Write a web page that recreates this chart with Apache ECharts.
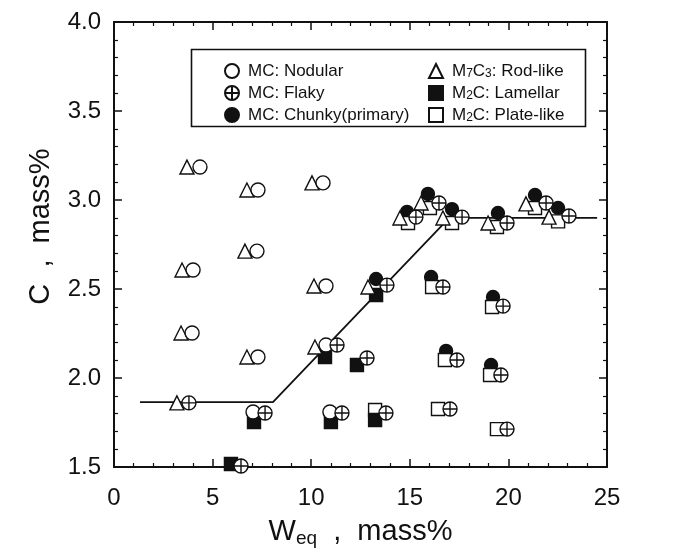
<!DOCTYPE html>
<html>
<head>
<meta charset="utf-8">
<script src="https://cdn.jsdelivr.net/npm/echarts@6/dist/echarts.min.js"></script>
<style>
  html, body { margin: 0; padding: 0; background: #fff; }
  #chart { width: 676px; height: 554px; }
</style>
</head>
<body>
<div id="chart"></div>
<script>
// ---- data ----
const xTicks = [0, 5, 10, 15, 20, 25];
const yTicks = ['1.5', '2.0', '2.5', '3.0', '3.5', '4.0'];

const nodular = [[4.36,3.185],[7.30,3.056],[10.60,3.096],[7.25,2.713],[4.01,2.607],[10.75,2.517],
                 [3.96,2.253],[7.30,2.118],[10.75,2.185],[7.05,1.809],[10.95,1.809]];
const flaky = [[3.80,1.860],[7.66,1.803],[11.31,2.185],[11.56,1.803],[12.83,2.112],[13.84,2.522],
               [13.79,1.803],[16.68,2.511],[17.04,1.826],[17.39,2.101],[19.73,2.404],[19.62,2.017],
               [19.93,1.713],[15.31,2.904],[16.48,2.983],[17.65,2.904],[19.93,2.871],[21.91,2.983],
               [23.07,2.910],[6.44,1.506]];
const chunky = [[13.29,2.556],[16.08,2.567],[16.84,2.152],[19.22,2.455],[19.12,2.073],[14.86,2.933],
                [15.92,3.034],[17.14,2.949],[19.47,2.927],[21.35,3.028],[22.52,2.955]];
const rodLike = [[3.70,3.185],[6.74,3.056],[10.04,3.096],[6.64,2.713],[3.45,2.607],[10.14,2.517],
                 [3.40,2.253],[6.74,2.118],[3.19,1.860],[10.19,2.174],[12.88,2.511],[14.50,2.899],
                 [15.57,2.983],[16.68,2.899],[18.97,2.871],[20.89,2.978],[22.06,2.904]];
const lamellar = [[7.10,1.753],[10.70,2.118],[12.32,2.073],[13.29,2.466],[11.00,1.753],[13.24,1.764],[5.93,1.517]];
const plateLike = [[16.13,2.511],[16.78,2.101],[19.17,2.399],[19.07,2.017],[13.24,1.820],[16.43,1.826],
                   [19.42,1.713],[14.91,2.871],[16.02,2.955],[17.14,2.871],[19.42,2.848],[21.35,2.955],[22.52,2.88]];
const boundary = [[1.32,1.865],[8.06,1.865],[17.0,2.9],[24.5,2.9]];

const names = {
  nodular: 'MC: Nodular', flaky: 'MC: Flaky', chunky: 'MC: Chunky(primary)',
  rod: 'M7C3: Rod-like', lamellar: 'M2C: Lamellar', plate: 'M2C: Plate-like'
};

// ---- chart ----
const INK = '#111';
const FONT = "'Liberation Sans', Arial, Helvetica, sans-serif";
const crossCircle = 'path://M10,0A10,10,0,1,1,10,20A10,10,0,1,1,10,0ZM10,0L10,20M0,10L20,10';

function scatter(name, data, symbol, fill, size, z) {
  return {
    type: 'scatter', name, data, symbol, symbolSize: size, z,
    itemStyle: { color: fill, borderColor: INK, borderWidth: 1.4, opacity: 1 },
    emphasis: { disabled: true }
  };
}

const axisCommon = {
  axisLine: { show: true, onZero: false, lineStyle: { color: INK, width: 2 } },
  axisTick: { show: true, inside: true, length: 8, lineStyle: { color: INK, width: 1.5 } },
  minorTick: { show: true, splitNumber: 5, length: 4, lineStyle: { color: INK, width: 1.2 } },
  splitLine: { show: false },
  minorSplitLine: { show: false }
};

const chart = echarts.init(document.getElementById('chart'), null, { renderer: 'canvas' });

function legendFmt(n) {
  return n.replace(/^M(\d)C(\d?)/, (m, a, b) => 'M{sub|' + a + '}C' + (b ? '{sub|' + b + '}' : ''));
}
const legendText = {
  color: INK, fontFamily: FONT, fontSize: 17, lineHeight: 18, padding: [0, 0, 0, 4],
  rich: { sub: { fontSize: 12, fontFamily: FONT, color: INK, verticalAlign: 'bottom', lineHeight: 14 } }
};

chart.setOption({
  animation: false,
  backgroundColor: '#fff',
  textStyle: { fontFamily: FONT },
  grid: { left: 114, right: 69, top: 22, bottom: 87, containLabel: false },
  xAxis: [
    Object.assign({}, axisCommon, {
      type: 'value', position: 'bottom', min: xTicks[0], max: xTicks[xTicks.length - 1], interval: 5,
      axisLabel: { color: INK, fontSize: 24, fontFamily: FONT, margin: 19 },
      name: '{w|W}{sub|eq}{w|  ,  mass%}', nameLocation: 'middle', nameGap: 49,
      nameTextStyle: {
        color: INK, fontFamily: FONT,
        rich: {
          w: { fontSize: 29, fontFamily: FONT, color: INK, lineHeight: 32 },
          sub: { fontSize: 19, fontFamily: FONT, color: INK, lineHeight: 16, verticalAlign: 'bottom' }
        }
      }
    }),
    Object.assign({}, axisCommon, {
      type: 'value', position: 'top', min: xTicks[0], max: xTicks[xTicks.length - 1], interval: 5,
      axisLabel: { show: false }
    })
  ],
  yAxis: [
    Object.assign({}, axisCommon, {
      type: 'value', position: 'left', min: Number(yTicks[0]), max: Number(yTicks[yTicks.length - 1]), interval: 0.5,
      axisLabel: { color: INK, fontSize: 24, fontFamily: FONT, margin: 13, formatter: v => v.toFixed(1) },
      name: 'C  ,  mass%', nameLocation: 'middle', nameGap: 59, nameRotate: 90,
      nameTextStyle: { color: INK, fontFamily: FONT, fontSize: 29, padding: [0, 0, 0, 36] }
    }),
    Object.assign({}, axisCommon, {
      type: 'value', position: 'right', min: Number(yTicks[0]), max: Number(yTicks[yTicks.length - 1]), interval: 0.5,
      axisLabel: { show: false }
    })
  ],
  legend: [
    {
      left: 219, top: 57, orient: 'vertical', itemWidth: 14, itemHeight: 14, itemGap: 4,
      data: [names.nodular, names.flaky, names.chunky],
      formatter: legendFmt, textStyle: legendText, selectedMode: false
    },
    {
      left: 423, top: 57, orient: 'vertical', itemWidth: 14, itemHeight: 14, itemGap: 4,
      data: [names.rod, names.lamellar, names.plate],
      formatter: legendFmt, textStyle: legendText, selectedMode: false
    }
  ],
  graphic: [{
    type: 'rect', left: 189, top: 47, shape: { width: 394, height: 77 },
    style: { fill: 'none', stroke: INK, lineWidth: 1.6 }, z: 100
  }],
  series: [
    {
      type: 'line', name: 'boundary', data: boundary, symbol: 'none', z: 1,
      lineStyle: { color: INK, width: 1.8 }, silent: true
    },
    scatter(names.chunky, chunky, 'circle', INK, 13, 2),
    scatter(names.plate, plateLike, 'rect', '#fff', 13, 3),
    scatter(names.lamellar, lamellar, 'rect', INK, 13, 4),
    scatter(names.rod, rodLike, 'triangle', '#fff', 14, 5),
    scatter(names.nodular, nodular, 'circle', '#fff', 14, 6),
    scatter(names.flaky, flaky, crossCircle, '#fff', 14, 7)
  ]
});
</script>
</body>
</html>
